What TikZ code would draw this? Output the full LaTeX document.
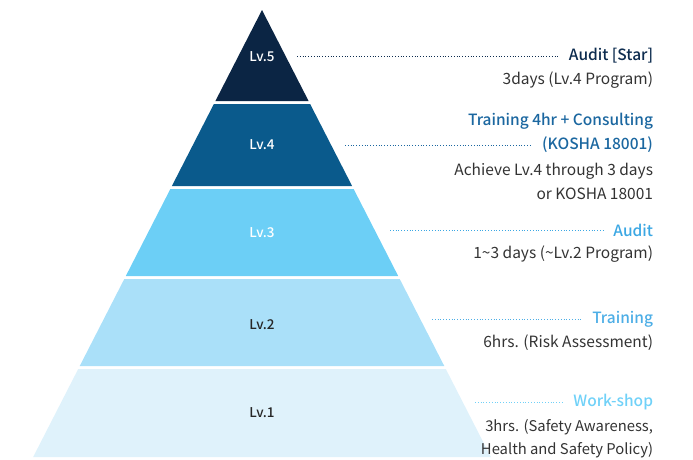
\documentclass[tikz,border=0pt]{standalone}
\usepackage{fontspec}
\setmainfont{Noto Sans CJK KR}[BoldFont={Noto Sans CJK KR Medium}]
\usetikzlibrary{positioning}
\definecolor{lvfive}{HTML}{0B2544}
\definecolor{lvfour}{HTML}{0A5A8C}
\definecolor{lvthree}{HTML}{6CCFF6}
\definecolor{lvtwo}{HTML}{AAE0F9}
\definecolor{lvone}{HTML}{DFF2FB}
\definecolor{tfive}{HTML}{0D2C4F}
\definecolor{tfour}{HTML}{1B67A0}
\definecolor{tthree}{HTML}{3BA7E3}
\definecolor{ttwo}{HTML}{4DAEE6}
\definecolor{tone}{HTML}{70D1F8}
\definecolor{txt}{HTML}{333333}
\tikzstyle{every node}=[inner sep=0pt,outer sep=0pt]
\tikzstyle{level}=[font=\bfseries\fontsize{13.5}{15}\selectfont]
\tikzstyle{title}=[anchor=east,font=\bfseries\fontsize{15.5}{18}\selectfont]
\tikzstyle{desc}=[anchor=east,align=right,text=txt,font=\fontsize{15.5}{23.5}\selectfont]
\tikzstyle{leader}=[dotted,thick,shorten >=10pt]

\begin{document}
\begin{tikzpicture}[x=1pt,y=-1pt]
	\useasboundingbox (0,0) rectangle (693,459);
	% pyramid bands: top/bottom/colour
	\foreach \t/\b/\c in {10/101/lvfive,104/186/lvfour,189/276/lvthree,279/366/lvtwo,369/457/lvone}
	  \fill[\c] ({262-0.512*(\t-10)},\t) -- ({262+0.512*(\t-10)},\t)
	    -- ({262+0.512*(\b-10)},\b) -- ({262-0.512*(\b-10)},\b) -- cycle;
	\node[level,text=white] (lv5) at (262,57) {Lv.5};
	\node[level,text=white] (lv4) at (262,145) {Lv.4};
	\node[level,text=white] (lv3) at (262,233) {Lv.3};
	\node[level,text=black!85] (lv2) at (262,325) {Lv.2};
	\node[level,text=black!85] (lv1) at (262,413) {Lv.1};
	% leader starts
	\coordinate (p5) at (297,56);
	\coordinate (p4) at (345,145);
	\coordinate (p3) at (390,230);
	\coordinate (p2) at (432,319);
	\coordinate (p1) at (475,402);
	% titles and texts
	\node[title,text=tfive] (t5) at (653,56) {Audit [Star]};
	\node[desc] (d5) at (653,80) {3days (Lv.4 Program)};
	\node[title,text=tfour] (t4) at (653,145) {(KOSHA 18001)};
	\node[title,text=tfour] (t4a) at (653,121) {Training 4hr + Consulting};
	\node[desc] (d4) at (653,181.5) {Achieve Lv.4 through 3 days\\or KOSHA 18001};
	\node[title,text=tthree] (t3) at (653,230) {Audit};
	\node[desc] (d3) at (653,254) {1\textasciitilde3 days (\textasciitilde Lv.2 Program)};
	\node[title,text=ttwo] (t2) at (653,319) {Training};
	\node[desc] (d2) at (653,343) {6hrs. (Risk Assessment)};
	\node[title,text=tone] (t1) at (653,402) {Work-shop};
	\node[desc,font=\fontsize{14.8}{23.5}\selectfont] (d1) at (653,438.5) {3hrs. (Safety Awareness,\\Health and Safety Policy)};
	% dotted leaders
	\draw[leader,tfive] (p5) -- (t5.west);
	\draw[leader,tfour] (p4) -- (t4.west);
	\draw[leader,tthree] (p3) -- (t3.west);
	\draw[leader,ttwo] (p2) -- (t2.west);
	\draw[leader,tone] (p1) -- (t1.west);
\end{tikzpicture}
\end{document}
